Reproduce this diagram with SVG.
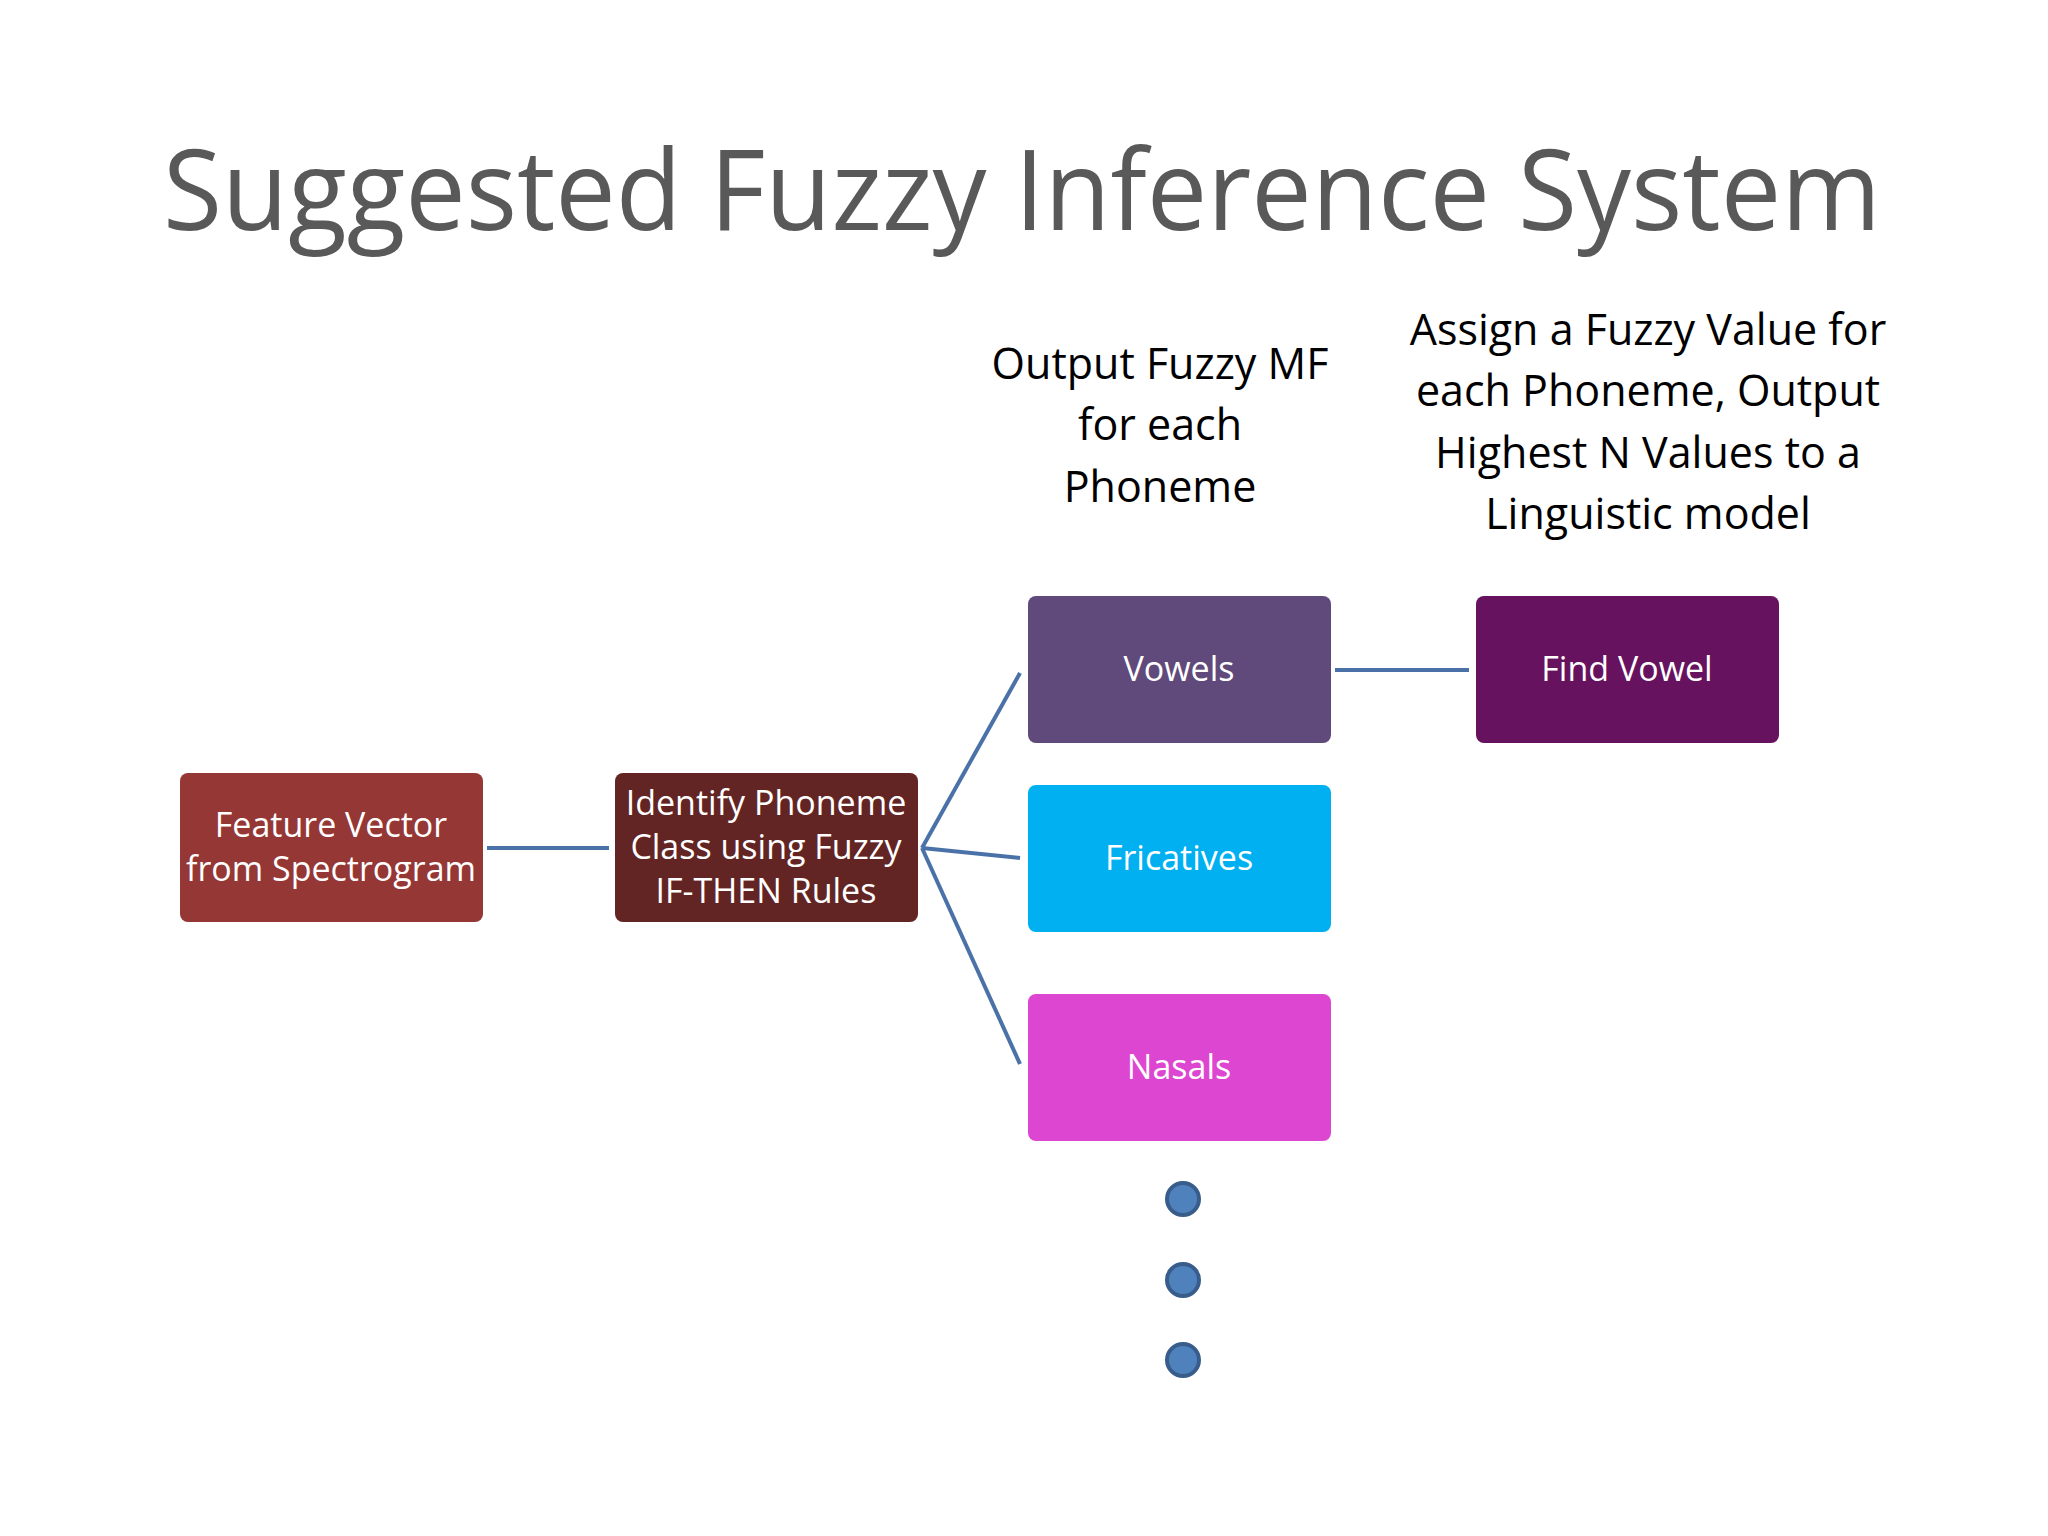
<svg xmlns="http://www.w3.org/2000/svg" width="2048" height="1536" viewBox="0 0 2048 1536">
<style>
.t{font-family:"Open Sans","Noto Sans",sans-serif;fill:#fff;font-size:34px;text-anchor:middle}
.h{font-family:"Open Sans","Noto Sans",sans-serif;fill:#000;font-size:43px;text-anchor:middle}
.c{stroke:#4A72A8;stroke-width:4;fill:none}
.d{fill:#4F81BD;stroke:#385D8A;stroke-width:4}
</style>
<rect width="2048" height="1536" fill="#fff"/>
<text x="1022" y="230" font-family="Open Sans,Noto Sans,sans-serif" font-size="112" fill="#595959" text-anchor="middle" textLength="1718" lengthAdjust="spacingAndGlyphs">Suggested Fuzzy Inference System</text>
<g id="header1"><text class="h" x="1160" y="379">Output Fuzzy MF</text><text class="h" x="1160" y="440">for each</text><text class="h" x="1160" y="502">Phoneme</text></g>
<g id="header2"><text class="h" x="1648" y="345">Assign a Fuzzy Value for</text><text class="h" x="1648" y="406">each Phoneme, Output</text><text class="h" x="1648" y="468">Highest N Values to  a</text><text class="h" x="1648" y="529">Linguistic model</text></g>
<g id="connectors">
<line class="c" x1="487" y1="848" x2="609" y2="848"/>
<line class="c" x1="922" y1="848" x2="1020" y2="673"/>
<line class="c" x1="922" y1="848" x2="1020" y2="858"/>
<line class="c" x1="922" y1="848" x2="1020" y2="1064"/>
<line class="c" x1="1335" y1="670" x2="1469" y2="670"/>
</g>
<g id="feature"><rect x="180" y="773" width="303" height="149" rx="8" fill="#953735"/><text class="t" x="331" y="837">Feature Vector</text><text class="t" x="331" y="881">from Spectrogram</text></g>
<g id="identify"><rect x="615" y="773" width="303" height="149" rx="8" fill="#632523"/><text class="t" x="766" y="815">Identify Phoneme</text><text class="t" x="766" y="859">Class using Fuzzy</text><text class="t" x="766" y="903">IF-THEN Rules</text></g>
<g id="vowels"><rect x="1028" y="596" width="303" height="147" rx="8" fill="#604A7B"/><text class="t" x="1179" y="681">Vowels</text></g>
<g id="fricatives"><rect x="1028" y="785" width="303" height="147" rx="8" fill="#00B0F0"/><text class="t" x="1179" y="870">Fricatives</text></g>
<g id="nasals"><rect x="1028" y="994" width="303" height="147" rx="8" fill="#DD46D0"/><text class="t" x="1179" y="1079">Nasals</text></g>
<g id="findvowel"><rect x="1476" y="596" width="303" height="147" rx="8" fill="#66125E"/><text class="t" x="1627" y="681">Find Vowel</text></g>
<g id="dots"><circle class="d" cx="1183" cy="1199" r="16"/><circle class="d" cx="1183" cy="1280" r="16"/><circle class="d" cx="1183" cy="1360" r="16"/></g>
</svg>
